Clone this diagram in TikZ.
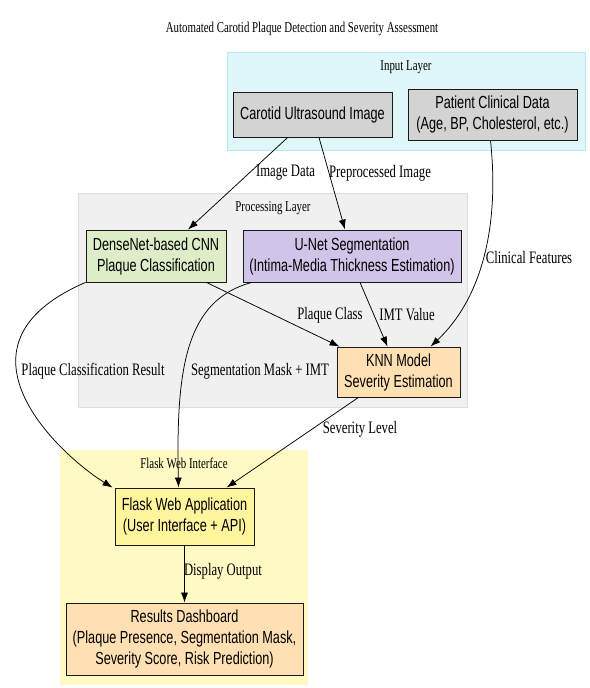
\documentclass[tikz,border=0pt]{standalone}
\usepackage{fontspec}
\setmainfont{Liberation Serif}[FakeStretch=0.725]
\setsansfont{Liberation Sans}[FakeStretch=0.725]
\usepackage{xcolor}
\usetikzlibrary{arrows.meta,positioning}
\definecolor{inbg}{HTML}{E0F7FA}
\definecolor{inedge}{HTML}{B2EBF2}
\definecolor{procbg}{HTML}{F0F0F0}
\definecolor{procedge}{HTML}{DDDDDD}
\definecolor{webbg}{HTML}{FFF9C4}
\definecolor{grayfill}{HTML}{D3D3D3}
\definecolor{greenfill}{HTML}{DCEDC8}
\definecolor{purplefill}{HTML}{D1C4E9}
\definecolor{orangefill}{HTML}{FFE0B2}
\definecolor{yellowfill}{HTML}{FFF59D}
\tikzset{
  gbox/.style={draw=black!90, line width=0.8pt, align=center, inner sep=3pt, font=\sffamily\fontsize{17.5}{21}\selectfont},
  elab/.style={font=\fontsize{17.5}{21}\selectfont, inner sep=1pt},
  clab/.style={font=\fontsize{15}{18}\selectfont},
  farr/.style={-{Latex[length=10pt,width=7pt]}, line width=0.75pt}
}

\begin{document}
\begin{tikzpicture}[x=1pt,y=-1pt]
\useasboundingbox (0,0) rectangle (589,688);
% layers
\fill[inbg, draw=inedge] (227,52) rectangle (585,150);
\fill[procbg, draw=procedge] (78,193) rectangle (467,407);
\fill[webbg] (60,450) rectangle (308,685);
\node[clab] (ttl) at (302,29) {Automated Carotid Plaque Detection and Severity Assessment};
\node[clab] (inl) at (406,67) {Input Layer};
\node[clab] (prl) at (273,208) {Processing Layer};
\node[clab] (wbl) at (184,463) {Flask Web Interface};
% nodes
\node[gbox, fill=grayfill, minimum width=159, minimum height=45] (img) at (312.5,114.5) {Carotid Ultrasound Image};
\node[gbox, fill=grayfill, minimum width=169, minimum height=51] (clin) at (492.5,114.5) {Patient Clinical Data\\(Age, BP, Cholesterol, etc.)};
\node[gbox, fill=greenfill, minimum width=140, minimum height=52] (cnn) at (156,256) {DenseNet-based CNN\\Plaque Classification};
\node[gbox, fill=purplefill, minimum width=218, minimum height=52] (unet) at (352,256) {U-Net Segmentation\\(Intima-Media Thickness Estimation)};
\node[gbox, fill=orangefill, minimum width=123, minimum height=50] (knn) at (398.5,372) {KNN Model\\Severity Estimation};
\node[gbox, fill=yellowfill, minimum width=139, minimum height=57] (app) at (184.5,516.5) {Flask Web Application\\(User Interface + API)};
\node[gbox, fill=orangefill, minimum width=237, minimum height=72] (dash) at (184.5,639) {Results Dashboard\\(Plaque Presence, Segmentation Mask,\\Severity Score, Risk Prediction)};
% edges
\draw[farr] (img) -- ([xshift=32]cnn.north) node[elab, at={(285.5,173)}] {Image Data};
\draw[farr] (img) -- ([xshift=-7]unet.north) node[elab, at={(380,173)}] {Preprocessed Image};
\draw[farr] ([xshift=-2]clin.south) .. controls (500,230) and (480,300) .. ([xshift=32]knn.north) node[elab, at={(529,258)}] {Clinical Features};
\draw[farr] ([xshift=-20]cnn.south east) -- ([xshift=3]knn.north west) node[elab, at={(330,315)}] {Plaque Class};
\draw[farr] ([xshift=8]unet.south) -- ([xshift=-11]knn.north) node[elab, at={(407,315)}] {IMT Value};
\draw[farr] (cnn.south west) .. controls (-60,345) and (60,455) .. ([xshift=-2]app.north west) node[elab, at={(93,371)}] {Plaque Classification Result};
\draw[farr] ([xshift=-100]unet.south) .. controls (185,300) and (176,370) .. ([xshift=-6]app.north) node[elab, at={(260,371)}] {Segmentation Mask + IMT};
\draw[farr] ([xshift=-40]knn.south) -- ([xshift=42]app.north) node[elab, at={(360,429)}] {Severity Level};
\draw[farr] (app) -- (dash) node[elab, at={(223,571)}] {Display Output};
\end{tikzpicture}
\end{document}
